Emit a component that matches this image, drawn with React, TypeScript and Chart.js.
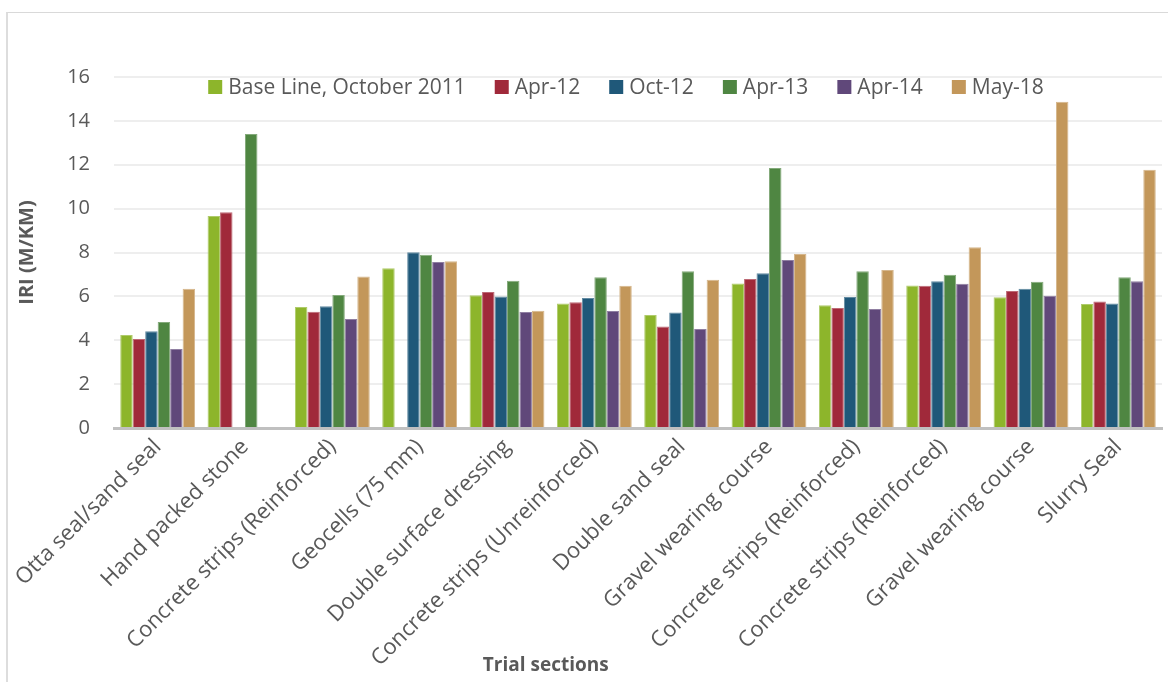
import { useEffect, useRef } from 'react';
import { Chart, registerables } from 'chart.js';

Chart.register(...registerables);

// Trial sections along the road
const categories = [
  'Otta seal/sand seal',
  'Hand packed stone',
  'Concrete strips (Reinforced)',
  'Geocells (75 mm)',
  'Double surface dressing',
  'Concrete strips (Unreinforced)',
  'Double sand seal',
  'Gravel wearing course',
  'Concrete strips (Reinforced)',
  'Concrete strips (Reinforced)',
  'Gravel wearing course',
  'Slurry Seal',
];

// IRI readings (m/km) for each survey
const baseLine = [4.24, 9.66, 5.51, 7.28, 6.05, 5.68, 5.15, 6.59, 5.59, 6.5, 5.96, 5.65];
const apr12 = [4.06, 9.84, 5.3, null, 6.2, 5.73, 4.63, 6.79, 5.47, 6.49, 6.24, 5.77];
const oct12 = [4.41, null, 5.55, 8.01, 6.0, 5.93, 5.26, 7.05, 5.97, 6.69, 6.35, 5.68];
const apr13 = [4.83, 13.4, 6.06, 7.9, 6.71, 6.87, 7.14, 11.85, 7.14, 6.99, 6.67, 6.87];
const apr14 = [3.6, null, 4.97, 7.57, 5.29, 5.33, 4.51, 7.66, 5.42, 6.58, 6.03, 6.69];
const may18 = [6.35, null, 6.91, 7.6, 5.35, 6.49, 6.76, 7.93, 7.2, 8.24, 14.87, 11.77];

const seriesLabels = ['Base Line, October 2011', 'Apr-12', 'Oct-12', 'Apr-13', 'Apr-14', 'May-18'];
const seriesColors = ['#8DB52B', '#A0293A', '#1F5879', '#4F8642', '#60487A', '#C3975A'];
const seriesValues = [baseLine, apr12, oct12, apr13, apr14, may18];

const yTicks = { min: 0, max: 16, step: 2 };

const FONT = '"Open Sans", "DejaVu Sans", sans-serif';
const TEXT = '#595959';

// Lighter edge colour for a bar: blend the fill toward white
function tint(hex: string, amount: number) {
  const n = parseInt(hex.slice(1), 16);
  const ch = [(n >> 16) & 255, (n >> 8) & 255, n & 255].map((c) =>
    Math.round(c + (255 - c) * amount)
  );
  return `rgb(${ch[0]},${ch[1]},${ch[2]})`;
}

// Legend inside the top of the plot area and the x-axis title
const overlayPlugin = {
  id: 'overlayText',
  afterDraw(chart: any) {
    const { ctx, chartArea } = chart;
    ctx.save();
    ctx.font = `21px ${FONT}`;
    ctx.textBaseline = 'middle';
    const box = 14;
    const gap = 6;
    const spacing = 29;
    const items = chart.data.datasets.map((ds: any) => ({
      label: ds.label as string,
      color: ds.backgroundColor as string,
      w: ctx.measureText(ds.label).width,
    }));
    const total =
      items.reduce((s: number, it: any) => s + box + gap + it.w, 0) + spacing * (items.length - 1);
    let x = chartArea.left + chartArea.width * 0.4885 - total / 2;
    const y = chartArea.top + 10;
    for (const it of items) {
      ctx.fillStyle = it.color;
      ctx.fillRect(x, y - box / 2, box, box);
      ctx.fillStyle = TEXT;
      ctx.textAlign = 'left';
      ctx.fillText(it.label, x + box + gap, y + 1);
      x += box + gap + it.w + spacing;
    }

    ctx.font = `bold 19px ${FONT}`;
    ctx.textAlign = 'center';
    ctx.fillStyle = TEXT;
    ctx.fillText('Trial sections', chartArea.left + chartArea.width * 0.412, 666);
    ctx.restore();
  },
};

export default function App() {
  const canvasRef = useRef<HTMLCanvasElement | null>(null);

  useEffect(() => {
    if (!canvasRef.current) return;
    const chart = new Chart(canvasRef.current, {
      type: 'bar',
      data: {
        labels: categories,
        datasets: seriesLabels.map((label, i) => ({
          label,
          data: seriesValues[i],
          backgroundColor: seriesColors[i],
          borderColor: tint(seriesColors[i], 0.3),
          borderWidth: 1,
          categoryPercentage: 6 / 7,
          barPercentage: 1,
        })),
      },
      options: {
        animation: false,
        responsive: false,
        devicePixelRatio: 1,
        layout: { padding: { left: 0, top: 77, right: 6, bottom: 0 } },
        plugins: {
          legend: { display: false },
          tooltip: { enabled: false },
        },
        scales: {
          x: {
            grid: { display: false, drawTicks: false },
            border: { display: true, color: '#C0C0C0', width: 3 },
            ticks: {
              autoSkip: false,
              maxRotation: 45,
              minRotation: 45,
              padding: 6,
              color: TEXT,
              font: { family: FONT, size: 22 },
            },
            afterFit(scale: any) {
              scale.height = 254;
            },
          },
          y: {
            min: yTicks.min,
            max: yTicks.max,
            grid: { color: '#EEEEEE', lineWidth: 2, drawTicks: false },
            border: { display: false },
            ticks: {
              stepSize: yTicks.step,
              padding: 24,
              color: TEXT,
              font: { family: FONT, size: 20 },
            },
            title: {
              display: true,
              text: 'IRI (M/KM)',
              color: TEXT,
              font: { family: FONT, size: 20, weight: 'bold' },
              padding: { top: 15, bottom: 0 },
            },
            afterFit(scale: any) {
              scale.width = 114;
            },
          },
        },
      },
      plugins: [overlayPlugin],
    });
    return () => chart.destroy();
  }, []);

  return (
    <div style={{ position: 'fixed', inset: 0, overflow: 'hidden', background: '#ffffff' }}>
      <div
        style={{
          position: 'absolute',
          left: 6,
          top: 12,
          width: 1200,
          height: 700,
          borderTop: '1px solid #D9D9D9',
          borderLeft: '2px solid #DDDDDD',
        }}
      />
      <canvas
        ref={canvasRef}
        width={1168}
        height={682}
        style={{ position: 'absolute', left: 0, top: 0, width: 1168, height: 682 }}
      />
    </div>
  );
}
